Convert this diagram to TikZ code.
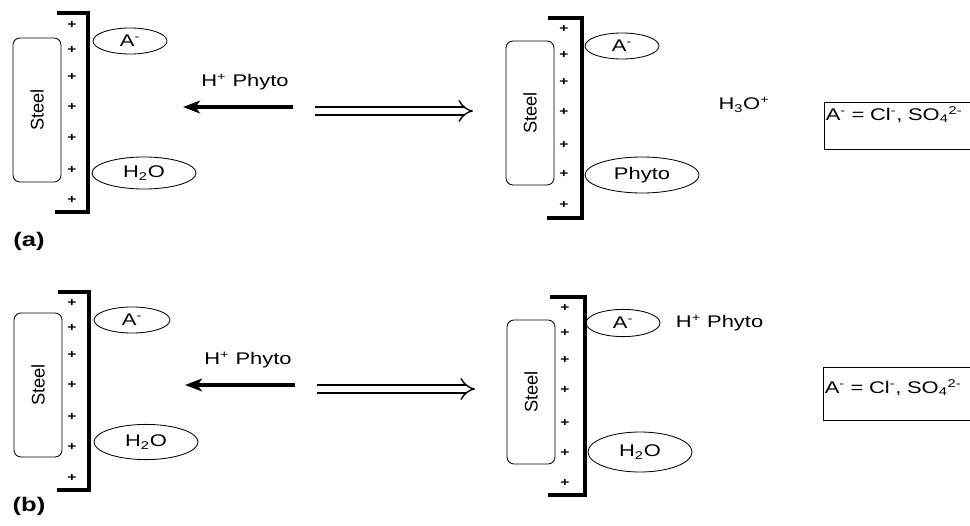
\documentclass[tikz,border=0pt]{standalone}
\usepackage{fontspec}
\setmainfont{Liberation Sans}[FakeStretch=1.3]
\newfontfamily\steelfont{Liberation Sans}
\usetikzlibrary{arrows.meta, shapes.geometric}
\newcommand{\lbl}{\fontsize{12}{14}\selectfont}

\begin{document}
\begin{tikzpicture}[x=0.025cm, y=-0.025cm, >=Stealth,
  steel/.style={draw, line width=0.6pt, rounded corners=5pt, rotate=90,
                minimum width=3.6cm, minimum height=1.2cm, inner sep=0pt,
                font=\steelfont\fontsize{13}{15}\selectfont},
  ion/.style={draw, ellipse, line width=0.6pt, inner sep=0pt, font=\lbl},
  wall/.style={line width=2.2pt},
  plus/.style={font=\fontsize{8.5}{9}\selectfont\bfseries, inner sep=0pt},
  push/.style={line width=2.8pt, -{Stealth[length=12pt, width=9pt, inset=3pt]}},
  gives/.style={double, double distance=4.5pt, line width=1pt, -{Implies}},
  legend/.style={draw, line width=0.6pt, anchor=north west, inner xsep=1pt, inner ysep=0pt,
                 text width=4.1cm, align=left, font=\lbl}]
  \useasboundingbox (0,0) rectangle (970,525);
  % (a) left
  \node[steel] (steelAl) at (37,110) {Steel};
  \draw[wall] (57,13) -- (88,13) -- (88,212) -- (55,212);
  \foreach \y in {25,50,77,107,138,170,200}
    \node[plus] (pAl\y) at (72,\y) {+};
  \node[ion, minimum width=1.85cm, minimum height=0.65cm] (anAl) at (130,41) {A\textsuperscript{-}};
  \node[ion, minimum width=2.6cm, minimum height=0.8cm] (watAl) at (144,173) {H\textsubscript{2}O};
  \node[font=\lbl] (phAl) at (245,82) {H\textsuperscript{+} Phyto};
  \coordinate (pushAs) at (293,107);
  \coordinate (pushAe) at (183,107);
  \draw[push] (pushAs) -- (pushAe);
  \coordinate (givAs) at (315,111);
  \coordinate (givAe) at (473,111);
  \draw[gives] (givAs) -- (givAe);
  \node[font=\fontsize{14}{16}\selectfont\bfseries] (capA) at (29,241) {(a)};
  % (a) right
  \node[steel] (steelAr) at (530,113) {Steel};
  \draw[wall] (548,18) -- (582,18) -- (582,218) -- (547,218);
  \foreach \y in {29,55,82,112,145,174,205}
    \node[plus] (pAr\y) at (564,\y) {+};
  \node[ion, minimum width=1.85cm, minimum height=0.65cm] (anAr) at (622,46) {A\textsuperscript{-}};
  \node[ion, minimum width=2.85cm, minimum height=0.9cm] (phyAr) at (642,175) {Phyto};
  \node[font=\lbl] (hydA) at (744,105) {H\textsubscript{3}O\textsuperscript{+}};
  \node[legend, text height=12.8pt, text depth=20.5pt] (legA) at (824,102)
    {A\textsuperscript{-} = Cl\textsuperscript{-}, SO\textsubscript{4}\textsuperscript{2-}};
  % (b) left
  \node[steel] (steelBl) at (38,385) {Steel};
  \draw[wall] (58,292) -- (89,292) -- (89,490) -- (57,490);
  \foreach \y in {303,328,355,385,417,447,478}
    \node[plus] (pBl\y) at (72,\y) {+};
  \node[ion, minimum width=1.9cm, minimum height=0.65cm] (anBl) at (132,320) {A\textsuperscript{-}};
  \node[ion, minimum width=2.6cm, minimum height=0.88cm] (watBl) at (146,442) {H\textsubscript{2}O};
  \node[font=\lbl] (phBl) at (248,360) {H\textsuperscript{+} Phyto};
  \coordinate (pushBs) at (295,385);
  \coordinate (pushBe) at (185,385);
  \draw[push] (pushBs) -- (pushBe);
  \coordinate (givBs) at (317,389);
  \coordinate (givBe) at (475,389);
  \draw[gives] (givBs) -- (givBe);
  \node[font=\fontsize{14}{16}\selectfont\bfseries] (capB) at (29,506) {(b)};
  % (b) right
  \node[steel] (steelBr) at (531,392) {Steel};
  \draw[wall] (550,297) -- (585,297) -- (585,495) -- (548,495);
  \foreach \y in {308,333,360,390,423,453,483}
    \node[plus] (pBr\y) at (565,\y) {+};
  \node[ion, minimum width=1.85cm, minimum height=0.68cm] (anBr) at (623,323) {A\textsuperscript{-}};
  \node[font=\lbl, anchor=west] (phBr) at (671,323) {H\textsuperscript{+} Phyto};
  \node[ion, minimum width=2.6cm, minimum height=1.0cm] (watBr) at (640,452) {H\textsubscript{2}O};
  \node[legend, text height=18.4pt, text depth=19.1pt] (legB) at (823,367)
    {A\textsuperscript{-} = Cl\textsuperscript{-}, SO\textsubscript{4}\textsuperscript{2-}};
\end{tikzpicture}
\end{document}
